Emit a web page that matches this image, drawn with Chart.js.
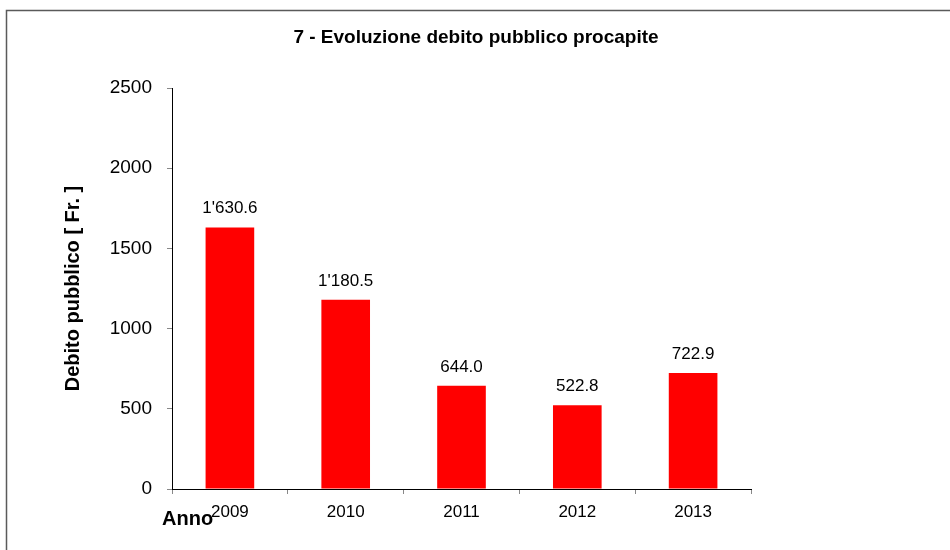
<!DOCTYPE html>
<html>
<head>
<meta charset="utf-8">
<script src="https://cdn.jsdelivr.net/npm/chart.js@4/dist/chart.umd.min.js"></script>
<style>
  html, body { margin: 0; padding: 0; background: #fff; }
  #wrap { width: 950px; height: 550px; }
</style>
</head>
<body>
<div id="wrap"><canvas id="chartDebito" width="950" height="550"></canvas></div>
<script>
// Debito pubblico procapite per anno
const anni = ['2009', '2010', '2011', '2012', '2013'];
const debitoProcapite = [1630.6, 1180.5, 644.0, 522.8, 722.9];
const tickY = [0, 500, 1000, 1500, 2000, 2500];

const titolo = '7 - Evoluzione debito pubblico procapite';
const titoloY = 'Debito pubblico [ Fr. ]';
const titoloX = 'Anno';

const FONT = 'Arial, "Liberation Sans", sans-serif';

// formato svizzero: 1'630.6
function formatta(v) {
    const [intero, dec] = v.toFixed(1).split('.');
    return intero.replace(/\B(?=(\d{3})+(?!\d))/g, "'") + '.' + dec;
}

// cornice, titolo, etichetta "Anno" e valori sopra le barre
const decorazioni = {
    id: 'decorazioni',
    afterDraw(chart) {
        const ctx = chart.ctx;
        ctx.save();
        ctx.strokeStyle = '#5a5a5a';
        ctx.lineWidth = 1.5;
        ctx.strokeRect(6.5, 10.5, 1000, 1000);

        ctx.fillStyle = '#000';
        ctx.font = 'bold 19px ' + FONT;
        ctx.textAlign = 'center';
        ctx.textBaseline = 'middle';
        ctx.fillText(titolo, 476, 38);

        ctx.font = 'bold 20px ' + FONT;
        ctx.textAlign = 'left';
        ctx.textBaseline = 'alphabetic';
        ctx.fillText(titoloX, 162, 525);

        ctx.font = '17px ' + FONT;
        ctx.textAlign = 'center';
        const meta = chart.getDatasetMeta(0);
        meta.data.forEach((bar, i) => {
            ctx.fillText(formatta(debitoProcapite[i]), bar.x, bar.y - 14);
        });
        ctx.restore();
    }
};

new Chart(document.getElementById('chartDebito'), {
    type: 'bar',
    data: {
        labels: anni,
        datasets: [{
            data: debitoProcapite,
            backgroundColor: '#ff0000',
            borderWidth: 0,
            barPercentage: 0.42,
            categoryPercentage: 1
        }]
    },
    options: {
        responsive: false,
        animation: false,
        layout: { padding: { top: 88, right: 199, left: 0, bottom: 0 } },
        plugins: { legend: { display: false }, tooltip: { enabled: false } },
        scales: {
            x: {
                afterFit: s => { s.height = 61; },
                grid: { offset: true, drawOnChartArea: false, tickLength: 5, color: '#888' },
                border: { color: '#000', width: 1 },
                ticks: { color: '#000', font: { size: 17, family: FONT }, padding: 8 }
            },
            y: {
                min: 0,
                max: 2500,
                afterFit: s => { s.width = 172; },
                afterBuildTicks: s => { s.ticks = tickY.map(v => ({ value: v })); },
                grid: { drawOnChartArea: false, tickLength: 5, color: '#888' },
                border: { color: '#000', width: 1 },
                ticks: {
                    color: '#000',
                    font: { size: 19, family: FONT },
                    padding: 15,
                    callback: v => String(v)
                },
                title: {
                    display: true,
                    text: titoloY,
                    color: '#000',
                    font: { size: 20, weight: 'bold', family: FONT },
                    padding: { top: 61, bottom: 0 }
                }
            }
        }
    },
    plugins: [decorazioni]
});
</script>
</body>
</html>
